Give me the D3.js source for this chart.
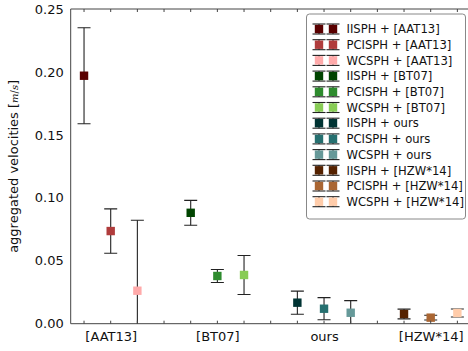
<!DOCTYPE html>
<html>
<head>
<meta charset="utf-8">
<script src="https://cdn.jsdelivr.net/npm/d3@7"></script>
<style>
  body { margin: 0; background: #fff; }
  text { font-family: "DejaVu Sans", sans-serif; }
</style>
</head>
<body>
<div id="chart"></div>
<script>
// groups along the x axis and the three solvers in each group
const groups = ['[AAT13]', '[BT07]', 'ours', '[HZW*14]'];
const solvers = ['IISPH', 'PCISPH', 'WCSPH'];

// mean aggregated velocity per group (rows) and solver (columns)
const means = [
    [0.197, 0.0736, 0.0262],
    [0.0881, 0.0379, 0.0387],
    [0.0167, 0.0119, 0.0087],
    [0.0077, 0.0048, 0.0085]
];
// half-length of the error bars
const errors = [
    [0.0381, 0.0176, 0.0560],
    [0.0099, 0.0052, 0.0155],
    [0.0092, 0.0088, 0.0096],
    [0.0039, 0.0019, 0.0032]
];
const colors = [
    ['#5a0000', '#b03c3c', '#ffaaaa'],
    ['#004400', '#2e8b2e', '#88cc55'],
    ['#003333', '#267070', '#669999'],
    ['#552200', '#aa6633', '#ffccaa']
];
const yTicks = [0, 0.05, 0.10, 0.15, 0.20, 0.25];

const W = 468, H = 351;
const plot = { left: 70.7, right: 470.7, top: 9, bottom: 323.7 };

const svg = d3.select('#chart').append('svg')
    .attr('width', W)
    .attr('height', H);

const x = d3.scaleLinear().domain([0.5, 15.5]).range([plot.left, plot.right]);
const y = d3.scaleLinear().domain([0, 0.25]).range([plot.bottom, plot.top]);

const pos = (g, s) => g * 4 + s + 1;

svg.append('defs').append('clipPath')
    .attr('id', 'clip')
    .append('rect')
    .attr('x', plot.left)
    .attr('y', plot.top)
    .attr('width', plot.right - plot.left)
    .attr('height', plot.bottom - plot.top);

// flat list of points
const points = [];
groups.forEach((g, gi) => {
    solvers.forEach((s, si) => {
        points.push({
            group: g, solver: s,
            p: pos(gi, si),
            mean: means[gi][si],
            err: errors[gi][si],
            color: colors[gi][si]
        });
    });
});

const marks = svg.append('g').attr('clip-path', 'url(#clip)');
const capW = 6.5;

const eb = marks.selectAll('.eb')
    .data(points)
    .enter()
    .append('g')
    .attr('class', 'eb');

eb.append('line')
    .attr('x1', d => x(d.p)).attr('x2', d => x(d.p))
    .attr('y1', d => y(d.mean - d.err)).attr('y2', d => y(d.mean + d.err))
    .attr('stroke', '#222').attr('stroke-width', 1.1);

[-1, 1].forEach(sign => {
    eb.append('line')
        .attr('x1', d => x(d.p) - capW).attr('x2', d => x(d.p) + capW)
        .attr('y1', d => y(d.mean + sign * d.err)).attr('y2', d => y(d.mean + sign * d.err))
        .attr('stroke', '#222').attr('stroke-width', 1.1);
});

eb.append('rect')
    .attr('x', d => x(d.p) - 4.2)
    .attr('y', d => y(d.mean) - 4.2)
    .attr('width', 8.4)
    .attr('height', 8.4)
    .attr('fill', d => d.color);

// frame
const frame = svg.append('g');
frame.append('line')
    .attr('x1', plot.left).attr('x2', plot.right)
    .attr('y1', plot.top).attr('y2', plot.top)
    .attr('stroke', '#444').attr('stroke-width', 1);
frame.append('line')
    .attr('x1', plot.left).attr('x2', plot.left)
    .attr('y1', plot.top).attr('y2', plot.bottom)
    .attr('stroke', '#444').attr('stroke-width', 1);
frame.append('line')
    .attr('x1', plot.left).attr('x2', plot.right)
    .attr('y1', plot.bottom).attr('y2', plot.bottom)
    .attr('stroke', '#444').attr('stroke-width', 1);

// inward ticks top and bottom at every position
const tickPos = d3.range(1, 16);
svg.append('g')
    .selectAll('line.bt')
    .data(tickPos)
    .enter()
    .append('line')
    .attr('x1', d => x(d)).attr('x2', d => x(d))
    .attr('y1', plot.bottom).attr('y2', plot.bottom - 3)
    .attr('stroke', '#444');
svg.append('g')
    .selectAll('line.tt')
    .data(tickPos)
    .enter()
    .append('line')
    .attr('x1', d => x(d)).attr('x2', d => x(d))
    .attr('y1', plot.top).attr('y2', plot.top + 3)
    .attr('stroke', '#444');

// y axis labels
const yAxis = svg.append('g')
    .attr('transform', `translate(${plot.left},0)`)
    .call(d3.axisLeft(y).tickValues(yTicks).tickFormat(d3.format('.2f')).tickSize(0).tickPadding(7));
yAxis.select('.domain').remove();
yAxis.selectAll('text').attr('font-size', 13).attr('fill', '#111')
    .attr('font-family', '"DejaVu Sans", sans-serif');

// x axis group labels
const xAxis = svg.append('g')
    .attr('transform', `translate(0,${plot.bottom})`)
    .call(d3.axisBottom(x)
        .tickValues(groups.map((g, i) => pos(i, 1)))
        .tickFormat((d, i) => groups[i])
        .tickSize(0).tickPadding(8));
xAxis.select('.domain').remove();
xAxis.selectAll('text').attr('font-size', 13).attr('fill', '#111')
    .attr('font-family', '"DejaVu Sans", sans-serif');

// y axis title
const yTitle = svg.append('text')
    .attr('transform', `translate(18,${(plot.top + plot.bottom) / 2}) rotate(-90)`)
    .attr('text-anchor', 'middle')
    .attr('font-size', 13)
    .attr('fill', '#111');
yTitle.append('tspan').text('aggregated velocities [');
yTitle.append('tspan')
    .attr('font-family', '"DejaVu Serif", serif')
    .attr('font-style', 'italic')
    .attr('font-size', 10)
    .text('m');
yTitle.append('tspan').attr('font-size', 10).text('/');
yTitle.append('tspan')
    .attr('font-family', '"DejaVu Serif", serif')
    .attr('font-style', 'italic')
    .attr('font-size', 10)
    .text('s');
yTitle.append('tspan').text(']');

// legend
const legend = svg.append('g');
legend.append('rect')
    .attr('x', 306.5).attr('y', 14)
    .attr('width', 159).attr('height', 205)
    .attr('rx', 3)
    .attr('fill', '#fff')
    .attr('stroke', '#888')
    .attr('stroke-width', 1);

const items = legend.selectAll('.item')
    .data(points)
    .enter()
    .append('g')
    .attr('class', 'item')
    .attr('transform', (d, i) => `translate(0,${29 + i * 15.7})`);

[319, 333].forEach(cx => {
    [-5, 5].forEach(dy => {
        items.append('line')
            .attr('x1', cx - capW).attr('x2', cx + capW)
            .attr('y1', dy).attr('y2', dy)
            .attr('stroke', '#222').attr('stroke-width', 1.1);
    });
    items.append('line')
        .attr('x1', cx).attr('x2', cx)
        .attr('y1', -5).attr('y2', 5)
        .attr('stroke', '#222').attr('stroke-width', 1.1);
    items.append('rect')
        .attr('x', cx - 4.2).attr('y', -4.2)
        .attr('width', 8.4).attr('height', 8.4)
        .attr('fill', d => d.color);
});

items.append('text')
    .attr('x', 346.5)
    .attr('y', 4.2)
    .attr('font-size', 11.6)
    .attr('fill', '#111')
    .text(d => `${d.solver} + ${d.group}`);
</script>
</body>
</html>
